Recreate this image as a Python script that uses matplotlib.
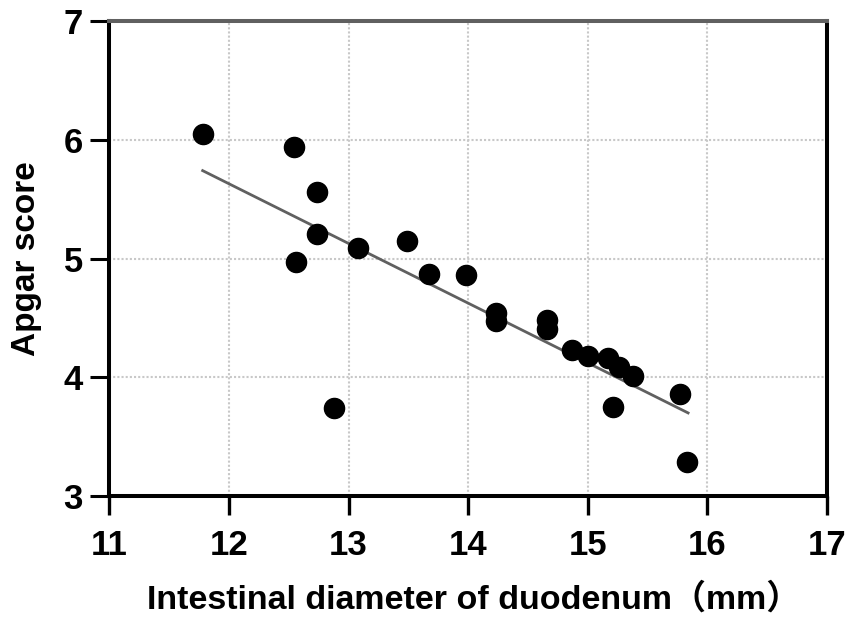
import numpy as np
import matplotlib
matplotlib.use("Agg")
import matplotlib.pyplot as plt

# diametre intestinal (mm) et score d'Apgar
diameter = [11.78, 12.54, 12.56, 12.74, 12.74, 12.88, 13.08, 13.49, 13.67, 13.98, 14.23,
            14.23, 14.66, 14.66, 14.87, 15.00, 15.17, 15.26, 15.38, 15.21, 15.77, 15.83]
apgar = [6.05, 5.94, 4.97, 5.56, 5.21, 3.74, 5.09, 5.15, 4.87, 4.86, 4.54,
         4.47, 4.48, 4.41, 4.23, 4.18, 4.16, 4.09, 4.01, 3.75, 3.86, 3.29]

# droite de regression telle que tracee
fit_x = [11.78, 15.84]
fit_y = [5.74, 3.70]

x_ticks = [11, 12, 13, 14, 15, 16, 17]
y_ticks = [3, 4, 5, 6, 7]

plt.rcParams['font.family'] = ['Liberation Sans', 'Noto Sans CJK SC', 'DejaVu Sans']
plt.rcParams['font.weight'] = 'bold'

fig = plt.figure(figsize=(8.48, 6.17), dpi=100)
ax = fig.add_axes([0.129, 0.196, 0.846, 0.770])

ax.grid(True, color="#c8c8c8", linestyle=(0, (1, 1)), linewidth=1.5)
ax.set_axisbelow(True)

ax.plot(fit_x, fit_y, color="#606060", linewidth=2, zorder=2)
ax.plot(diameter, apgar, "o", color="black", markersize=14.5, zorder=3)

ax.set_xlim(11, 17)
ax.set_ylim(3, 7)
ax.set_xticks(x_ticks)
ax.set_yticks(y_ticks)

for side, sp in ax.spines.items():
    sp.set_linewidth(2.9)
    sp.set_color("black")
ax.spines["top"].set_color("#606060")

ax.tick_params(axis="x", direction="out", length=14, width=2.4, pad=10, labelsize=25)
ax.tick_params(axis="y", direction="out", length=14, width=2.2, pad=5, labelsize=25)

ax.set_xlabel("Intestinal diameter of duodenum（mm）", fontsize=24.5, fontweight="bold")
ax.set_ylabel("Apgar score", fontsize=24, fontweight="bold")
ax.xaxis.set_label_coords(0.508, -0.183)
ax.yaxis.set_label_coords(-0.094, 0.5)

fig.savefig("out.png", dpi=100)
